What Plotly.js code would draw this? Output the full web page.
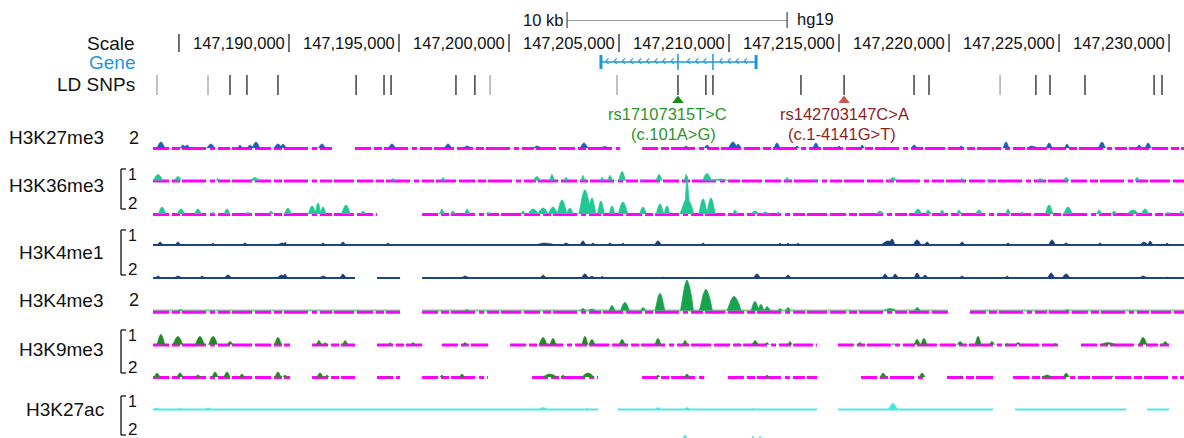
<!DOCTYPE html>
<html><head><meta charset="utf-8">
<script src="https://cdn.plot.ly/plotly-3.0.1.min.js"></script>
<style>html,body{margin:0;padding:0;background:#fff;overflow:hidden}#chart{width:1184px;height:438px}</style>
</head><body><div id="chart"></div>
<script>
// ---------------- DATA (genomic positions in kb, signal heights) ----------------
const VIEW_KB = [147183.82, 147230.68];
const SCALE_TICKS_KB = [147185,147190,147195,147200,147205,147210,147215,147220,147225,147230];
const SCALE_TICK_LABELS = ['', '147,190,000','147,195,000','147,200,000','147,205,000','147,210,000','147,215,000','147,220,000','147,225,000','147,230,000'];
const RULER_KB = [147202.64, 147212.64];
const RULER_TEXT = '10 kb';
const ASSEMBLY = 'hg19';
const GENE_EXONS_KB = [147204.18, 147207.68, 147209.27, 147211.23];
const SNP_POS_KB = [147184.0,147186.32,147187.32,147188.09,147189.5,147193.05,147194.32,147194.64,147197.59,147198.45,147199.14,147204.91,147207.68,147208.95,147209.27,147213.27,147215.23,147218.41,147219.09,147222.32,147223.95,147224.59,147226.18,147229.32,147229.68];
const SNP_STRONG = [0,0,1,1,1,1,1,1,1,1,0,0,1,1,1,1,1,1,1,0,1,1,1,1,1];
const HL_SNP_POS_KB = [147207.68, 147215.23];
const HL_SNP_IDS = ['rs17107315T>C', 'rs142703147C>A'];
const HL_SNP_HGVS = ['(c.101A>G)', '(c.1-4141G>T)'];
const TRACK_NAMES = ['H3K27me3','H3K36me3','H3K4me1','H3K4me3','H3K9me3','H3K27ac'];
const TRACK_REPLICATES = [['2'],['1','2'],['1','2'],['2'],['1','2'],['1','2']];

// peaks: [centre kb, width kb, signal]
const K27ME3_SEGMENTS = [[147183.82,147192.0],[147193.0,147205.05],[147206.05,147230.68]];
const K27ME3_PEAKS = [[147184.18,0.36,6],[147185.18,0.27,3],[147185.36,0.27,3],[147186.45,0.36,4],[147187.77,0.18,3],[147188.23,0.27,3],[147188.5,0.36,6],[147189.5,0.36,4],[147189.73,0.27,4],[147191.5,0.32,4],[147194.68,0.32,4],[147197.23,0.32,4],[147198.09,0.36,2],[147201.27,0.36,2],[147203.41,0.36,5],[147204.36,0.45,1.5],[147208.05,0.23,2],[147209.0,0.27,3],[147210.18,0.41,6],[147210.41,0.27,4],[147212.18,0.27,5],[147213.09,0.18,2],[147213.95,0.27,5],[147215.0,0.18,2],[147216.05,0.18,3],[147217.05,0.18,1],[147218.41,0.27,3],[147220.55,0.23,2],[147222.59,0.27,6],[147223.77,0.45,2],[147224.55,0.27,5],[147225.36,0.23,4],[147226.95,0.32,6],[147228.64,0.23,3],[147229.05,0.27,5]];

const K36ME3_R1_SEGMENTS = [[147183.82,147230.68]];
const K36ME3_R1_PEAKS = [[147184.05,0.45,6],[147184.95,0.32,4],[147186.77,0.18,2],[147188.45,0.36,3],[147194.73,0.18,2],[147197.0,0.18,3],[147201.27,0.32,4],[147201.95,0.23,6],[147202.59,0.23,3],[147203.36,0.18,5],[147204.23,0.18,3],[147204.59,0.23,5],[147205.14,0.32,9],[147206.05,0.14,1],[147206.82,0.27,6],[147208.05,0.18,6],[147209.0,0.41,7],[147209.59,0.91,1.5],[147212.64,0.18,3],[147213.95,0.18,1.5],[147217.45,0.32,3],[147220.59,0.18,2],[147221.77,0.14,1],[147224.14,0.27,2],[147225.32,0.27,3],[147228.55,0.23,3]];

const K36ME3_R2_SEGMENTS = [[147183.82,147194.0],[147196.05,147230.68]];
const K36ME3_R2_PEAKS = [[147184.23,0.36,7],[147185.09,0.36,5],[147185.86,0.32,5],[147186.55,0.18,2],[147187.18,0.27,5],[147188.14,0.18,2],[147189.18,0.23,3],[147189.95,0.32,6],[147191.05,0.36,8],[147191.32,0.27,11],[147191.55,0.27,7],[147192.59,0.41,9],[147193.36,0.27,3],[147196.95,0.23,5],[147197.45,0.23,3],[147198.09,0.23,5],[147199.05,0.18,2],[147200.64,0.23,3],[147201.1,0.5,5],[147201.55,0.5,6],[147202.0,0.45,7],[147202.41,0.45,14],[147202.77,0.32,6],[147203.45,0.55,24],[147203.77,0.36,16],[147204.18,0.32,13],[147204.68,0.27,8],[147205.18,0.45,12],[147206.09,0.32,7],[147206.86,0.36,10],[147207.18,0.27,8],[147208.09,0.64,15],[147208.09,0.23,38],[147208.82,0.4,15],[147209.18,0.4,16],[147210.27,0.23,4],[147211.18,0.36,3],[147211.64,0.36,2],[147212.23,0.18,2],[147216.05,0.14,1],[147216.86,0.36,3],[147218.59,0.36,5],[147219.05,0.27,4],[147219.68,0.23,4],[147220.45,0.23,4],[147221.36,0.32,4],[147222.68,0.23,5],[147223.32,0.18,2],[147224.55,0.36,9],[147225.41,0.41,7],[147226.82,0.23,4],[147227.5,0.23,3],[147228.36,0.55,4],[147228.91,0.36,5],[147229.95,0.18,2],[147230.55,0.18,3]];

const K4ME1_R1_SEGMENTS = [[147183.82,147230.68]];
const K4ME1_R1_PEAKS = [[147184.14,0.27,3],[147184.95,0.27,3],[147186.55,0.18,2],[147188.0,0.27,2],[147189.68,0.45,2],[147189.82,0.14,3],[147191.55,0.23,2],[147192.45,0.27,3],[147194.5,0.23,2],[147198.0,0.09,1],[147201.64,0.91,2],[147202.59,0.32,2],[147203.36,0.27,4],[147203.82,0.23,2],[147204.59,0.23,2],[147205.18,0.18,2],[147206.77,0.32,4],[147208.82,0.23,2],[147210.27,0.09,1],[147211.18,0.09,1],[147212.32,0.18,2],[147212.68,0.18,2],[147213.14,0.18,2],[147217.23,0.64,4],[147217.41,0.27,6],[147218.55,0.36,5],[147219.0,0.27,3],[147220.59,0.27,3],[147221.86,0.09,1],[147222.68,0.23,2],[147224.68,0.32,5],[147225.32,0.27,2],[147226.86,0.23,2],[147228.86,0.36,3],[147229.14,0.23,4],[147229.91,0.18,2]];

const K4ME1_R2_SEGMENTS = [[147183.82,147193.0],[147194.0,147195.05],[147196.05,147230.68]];
const K4ME1_R2_PEAKS = [[147184.05,0.27,2],[147184.95,0.36,2],[147186.05,0.23,2],[147187.23,0.32,3],[147189.68,0.45,3],[147189.82,0.18,4],[147191.55,0.36,2],[147192.45,0.27,4],[147198.0,0.36,2],[147201.55,0.27,3],[147202.09,0.09,1],[147203.45,0.32,4],[147203.77,0.27,2],[147204.23,0.14,2],[147207.0,0.14,1],[147211.27,0.32,4],[147212.68,0.27,3],[147217.09,0.27,4],[147217.55,0.27,4],[147218.55,0.27,5],[147218.91,0.27,3],[147220.59,0.27,2],[147222.64,0.23,2],[147224.64,0.32,5],[147225.32,0.36,4],[147228.82,0.36,2],[147229.91,0.18,1]];

const K4ME3_SEGMENTS = [[147183.82,147195.05],[147196.05,147219.95],[147220.95,147230.68]];
const K4ME3_PEAKS = [[147185.05,0.18,1],[147198.09,0.18,1],[147203.36,0.27,2],[147203.77,0.36,1.5],[147204.68,0.27,5],[147205.27,0.41,8],[147206.09,0.23,3],[147206.86,0.45,17],[147208.09,0.59,30],[147208.95,0.59,21],[147210.23,0.64,14],[147211.18,0.36,9],[147211.45,0.27,6],[147211.73,0.27,4],[147212.32,0.18,2],[147212.68,0.23,3],[147217.32,0.55,2],[147218.55,0.27,3],[147225.36,0.18,1]];

const K9ME3_R1_SEGMENTS = [[147183.82,147190.05],[147191.05,147193.0],[147194.0,147196.05],[147196.95,147199.05],[147200.05,147214.0],[147214.95,147225.0],[147226.0,147230.0]];
const K9ME3_R1_PEAKS = [[147184.18,0.36,10],[147184.95,0.45,8],[147185.95,0.41,8],[147186.55,0.41,8],[147187.32,0.27,3],[147189.5,0.32,7],[147191.36,0.23,4],[147191.64,0.14,2],[147192.55,0.23,4],[147194.59,0.14,2],[147195.64,0.18,2],[147198.0,0.18,2],[147201.55,0.36,7],[147202.0,0.27,6],[147203.45,0.27,8],[147203.77,0.27,5],[147205.14,0.27,5],[147206.77,0.27,6],[147208.0,0.23,4],[147210.41,0.09,1],[147211.18,0.27,4],[147211.73,0.18,2],[147212.77,0.18,3],[147215.95,0.18,2],[147217.45,0.14,1],[147218.55,0.27,5],[147218.86,0.27,6],[147220.5,0.27,3],[147221.32,0.27,8],[147221.95,0.23,3],[147222.64,0.14,1],[147223.14,0.23,2],[147224.82,0.14,1],[147227.23,0.64,2],[147228.82,0.36,7],[147229.82,0.23,3]];

const K9ME3_R2_SEGMENTS = [[147183.82,147190.05],[147191.05,147193.0],[147194.0,147195.05],[147196.05,147199.05],[147201.05,147204.05],[147206.05,147209.0],[147209.95,147214.0],[147216.0,147218.91],[147219.91,147222.0],[147222.91,147230.68]];
const K9ME3_R2_PEAKS = [[147184.0,0.27,4],[147185.05,0.27,4],[147185.86,0.27,2],[147186.64,0.27,5],[147187.18,0.27,5],[147187.86,0.23,3],[147189.5,0.27,5],[147189.82,0.18,2],[147191.41,0.27,4],[147191.73,0.18,2],[147194.5,0.14,1],[147196.95,0.18,2],[147197.86,0.23,3],[147201.86,0.64,3],[147202.45,0.18,2],[147203.59,0.55,4],[147206.77,0.18,2],[147208.09,0.23,3],[147211.73,0.18,2],[147217.0,0.27,4],[147218.77,0.27,4],[147220.5,0.14,1],[147224.45,0.45,2],[147225.32,0.27,4],[147227.41,0.14,1]];

const K27AC_R1_SEGMENTS = [[147183.82,147204.05],[147204.95,147214.0],[147214.95,147222.0],[147223.0,147228.05],[147229.0,147230.0]];
const K27AC_R1_PEAKS = [[147184.0,0.23,1.5],[147185.05,0.18,1],[147186.32,0.27,1.5],[147201.55,0.36,2],[147203.55,0.09,1],[147206.77,0.27,2],[147208.09,0.23,2],[147211.09,0.09,1],[147217.45,0.41,6]];
const K27AC_R2_SEGMENTS = [];
const K27AC_R2_PEAKS = [[147208.0,0.27,8],[147211.09,0.18,7],[147211.41,0.18,7]];

// ---------------- DRAWING ----------------
const W = 1184, H = 438;
const px = v => v / W;
const py = v => 1 - v / H;
const FONT = 'Liberation Sans, Arial, Helvetica, sans-serif';
const MAGENTA = '#ff00ff';
const GENE_BLUE = '#1a98d5';
const DASH = '16px,3px,8px,2px,24px,4px,5px,3px,12px,2px,20px,3px';

const rows = [
  {peaks:K27ME3_PEAKS, segs:K27ME3_SEGMENTS, base:148, color:'#1b63b8', baseColor:'#b7cfee', baseW:1.2, mag:true, magY:-0.5},
  {peaks:K36ME3_R1_PEAKS, segs:K36ME3_R1_SEGMENTS, base:180.5, color:'#21c795', baseColor:'#a6e9d4', baseW:1.2, mag:true, magY:-0.5},
  {peaks:K36ME3_R2_PEAKS, segs:K36ME3_R2_SEGMENTS, base:214, color:'#21c795', baseColor:'#a6e9d4', baseW:1.2, mag:true, magY:-0.5},
  {peaks:K4ME1_R1_PEAKS, segs:K4ME1_R1_SEGMENTS, base:245, color:'#183f7a', baseColor:'#1d4580', baseW:2, mag:false},
  {peaks:K4ME1_R2_PEAKS, segs:K4ME1_R2_SEGMENTS, base:278, color:'#183f7a', baseColor:'#1d4580', baseW:2, mag:false},
  {peaks:K4ME3_PEAKS, segs:K4ME3_SEGMENTS, base:310.5, color:'#17a24c', baseColor:'#74d093', baseW:2, mag:true, magY:-1.8},
  {peaks:K9ME3_R1_PEAKS, segs:K9ME3_R1_SEGMENTS, base:344.5, color:'#218a21', baseColor:'#cbe8cb', baseW:1.2, mag:true, magY:-0.5},
  {peaks:K9ME3_R2_PEAKS, segs:K9ME3_R2_SEGMENTS, base:377, color:'#218a21', baseColor:'#cbe8cb', baseW:1.2, mag:true, magY:-0.5},
  {peaks:K27AC_R1_PEAKS, segs:K27AC_R1_SEGMENTS, base:409.5, color:'#3ee8ea', baseColor:'#4eeaea', baseW:2, mag:false},
  {peaks:K27AC_R2_PEAKS, segs:K27AC_R2_SEGMENTS, base:443, color:'#3ee8ea', baseColor:'#4eeaea', baseW:2, mag:false}
];

const layout = {
  width: W, height: H, margin:{l:0,r:0,t:0,b:0}, paper_bgcolor:'#fff', plot_bgcolor:'rgba(0,0,0,0)',
  showlegend:false, hovermode:false,
  xaxis:{domain:[153/W,1], range:VIEW_KB, visible:false, fixedrange:true, anchor:'y'},
  shapes:[], annotations:[]
};
const traces = [];

// mound outline used to draw each peak (relative offsets of the peak width / height)
const MOUND_DX = [-0.5,-0.36,-0.2,-0.05,0.05,0.2,0.36,0.5];
const MOUND_DY = [0,0.45,0.8,1,1,0.8,0.45,0];

rows.forEach((r, i) => {
  const n = i + 1;
  const yk = n === 1 ? 'y' : 'y' + n;
  const ak = n === 1 ? 'yaxis' : 'yaxis' + n;
  let lo = H - r.base - 4, r0 = -4;
  if (lo < 0) { r0 = -4 - lo; lo = 0; }
  layout[ak] = {domain:[lo / H, (H - r.base + 44) / H], range:[r0, 44], visible:false, fixedrange:true, anchor:'x'};
  const sx = [], sy = [], my = [];
  r.segs.forEach(s => { sx.push(s[0], s[1], null); sy.push(0, 0, null); my.push(r.magY, r.magY, null); });
  if (sx.length) {
    traces.push({x:sx, y:sy, xaxis:'x', yaxis:yk, mode:'lines', line:{color:r.baseColor, width:r.baseW}, hoverinfo:'skip'});
    if (r.mag) traces.push({x:sx, y:my, xaxis:'x', yaxis:yk, mode:'lines', line:{color:MAGENTA, width:3, dash:DASH}, hoverinfo:'skip'});
  }
  const qx = [], qy = [];
  r.peaks.forEach(p => {
    MOUND_DX.forEach((d, k) => { qx.push(p[0] + d * p[1]); qy.push(MOUND_DY[k] * p[2]); });
    qx.push(null); qy.push(null);
  });
  traces.push({x:qx, y:qy, xaxis:'x', yaxis:yk, mode:'lines', fill:'toself', fillcolor:r.color, line:{color:r.color, width:0.6}, hoverinfo:'skip'});
});

// overlay axis in pixel units for the header glyphs
layout.yaxis11 = {domain:[0,1], range:[H,0], visible:false, fixedrange:true, anchor:'x'};

// ---- scale ticks
SCALE_TICKS_KB.forEach((t, i) => {
  layout.shapes.push({type:'line', xref:'x', yref:'paper', x0:t, x1:t, y0:py(52), y1:py(34), line:{color:'#222', width:1.3}});
  if (SCALE_TICK_LABELS[i]) layout.annotations.push({text:SCALE_TICK_LABELS[i], x:t, xref:'x', y:py(43), yref:'paper', xanchor:'right', yanchor:'middle', xshift:-2, showarrow:false, font:{family:FONT, size:16.5, color:'#111'}});
});
// ruler
layout.shapes.push({type:'line', xref:'x', yref:'paper', x0:RULER_KB[0], x1:RULER_KB[1], y0:py(20.5), y1:py(20.5), line:{color:'#9a9a9a', width:1.2}});
RULER_KB.forEach(t => layout.shapes.push({type:'line', xref:'x', yref:'paper', x0:t, x1:t, y0:py(28), y1:py(12), line:{color:'#444', width:1.2}}));
layout.annotations.push({text:RULER_TEXT, x:RULER_KB[0], xref:'x', y:py(20), yref:'paper', xanchor:'right', yanchor:'middle', xshift:-2, showarrow:false, font:{family:FONT, size:16.5, color:'#111'}});
layout.annotations.push({text:ASSEMBLY, x:RULER_KB[1], xref:'x', y:py(19), yref:'paper', xanchor:'left', yanchor:'middle', xshift:8, showarrow:false, font:{family:FONT, size:16.5, color:'#111'}});

// gene model
const g0 = GENE_EXONS_KB[0], g1 = GENE_EXONS_KB[GENE_EXONS_KB.length - 1];
layout.shapes.push({type:'line', xref:'x', yref:'paper', x0:g0, x1:g1, y0:py(62), y1:py(62), line:{color:GENE_BLUE, width:1.5}});
GENE_EXONS_KB.forEach((e, i) => {
  const end = (i === 0 || i === GENE_EXONS_KB.length - 1);
  layout.shapes.push({type:'line', xref:'x', yref:'paper', x0:e, x1:e, y0:py(end ? 69 : 70), y1:py(end ? 55 : 54), line:{color:GENE_BLUE, width:end ? 3 : 1.5}});
});
const chevX = [];
for (let x = g0 + 0.28; x < g1 - 0.15; x += 0.37) { if (GENE_EXONS_KB.every(e => Math.abs(e - x) > 0.16)) chevX.push(x); }
traces.push({x:chevX, y:chevX.map(() => 61), xaxis:'x', yaxis:'y11', mode:'text', text:chevX.map(() => '‹'), textposition:'middle center', textfont:{family:FONT, size:15, color:GENE_BLUE}, hoverinfo:'skip'});

// LD SNPs
SNP_POS_KB.forEach((s, i) => layout.shapes.push({type:'line', xref:'x', yref:'paper', x0:s, x1:s, y0:py(95), y1:py(75), line:{color:SNP_STRONG[i] ? '#222' : '#a0a0a0', width:1.3}}));
traces.push({x:HL_SNP_POS_KB, y:[100.5,100.5], xaxis:'x', yaxis:'y11', mode:'markers', marker:{symbol:'triangle-up', size:10, color:['#1b8a1b','#c65a50'], line:{width:0}}, hoverinfo:'skip'});
const hlColors = ['#2a962a', '#8e1f1f'];
const idShift = [-10, 0], hgShift = [-4, -2];
HL_SNP_POS_KB.forEach((s, i) => {
  layout.annotations.push({text:HL_SNP_IDS[i], x:s, xref:'x', y:py(114), yref:'paper', xanchor:'center', yanchor:'middle', xshift:idShift[i], showarrow:false, font:{family:FONT, size:16.5, color:hlColors[i]}});
  layout.annotations.push({text:HL_SNP_HGVS[i], x:s, xref:'x', y:py(134), yref:'paper', xanchor:'center', yanchor:'middle', xshift:hgShift[i], showarrow:false, font:{family:FONT, size:16.5, color:hlColors[i]}});
});

// left labels
const lab = (text, x, y, color, anchor, size) => layout.annotations.push({text, x:px(x), y:py(y), xref:'paper', yref:'paper', xanchor:anchor || 'right', yanchor:'middle', showarrow:false, font:{family:FONT, size:size || 19, color:color || '#111'}});
lab('Scale', 137, 43);
lab('Gene', 137, 62, GENE_BLUE);
lab('LD SNPs', 137, 85);
const trackLabelY = [138, 186, 252, 300, 349, 409];
const repY = [[138], [174, 203], [235, 269], [300], [335, 367], [401, 429]];
TRACK_NAMES.forEach((name, i) => {
  lab(name, 106, trackLabelY[i]);
  const reps = TRACK_REPLICATES[i];
  if (reps.length === 1) {
    lab(reps[0], 134, repY[i][0], '#111', 'center', 18);
  } else {
    lab(reps[0], 126, repY[i][0], '#111', 'left', 16);
    lab(reps[1], 126, repY[i][1], '#111', 'left', 17);
    const top = repY[i][0] - 5, bot = repY[i][1] + 6;
    layout.shapes.push({type:'line', xref:'paper', yref:'paper', x0:px(121), x1:px(121), y0:py(top), y1:py(bot), line:{color:'#222', width:1.4}});
    layout.shapes.push({type:'line', xref:'paper', yref:'paper', x0:px(121), x1:px(126), y0:py(top), y1:py(top), line:{color:'#222', width:1.4}});
    layout.shapes.push({type:'line', xref:'paper', yref:'paper', x0:px(121), x1:px(126), y0:py(bot), y1:py(bot), line:{color:'#222', width:1.4}});
  }
});

Plotly.newPlot('chart', traces, layout, {staticPlot:true, displayModeBar:false});
</script></body></html>
